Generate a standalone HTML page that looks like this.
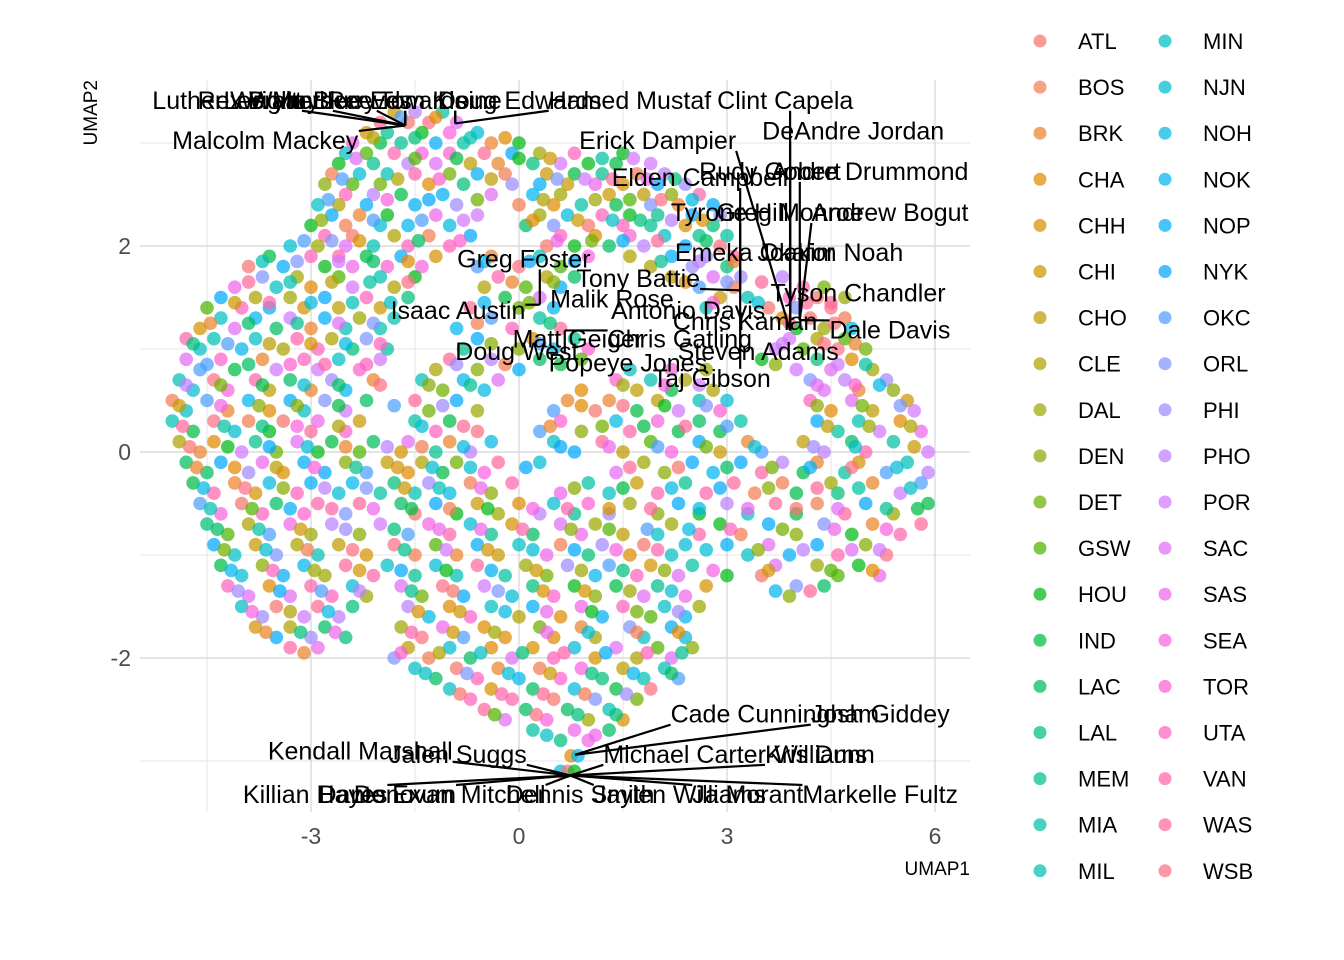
<!DOCTYPE html>
<html><head><meta charset="utf-8"><style>
html,body{margin:0;padding:0;background:#fff;}
svg{display:block;font-family:"Liberation Sans",Arial,sans-serif;}
</style></head><body>
<svg id="chart" width="1344" height="960">
<g id="grid"></g>
<g id="pts"></g>
<g id="lbl"></g>
<g id="axes"></g>
<g id="legend"></g>
</svg>
<script>
const teams = ["ATL","BOS","BRK","CHA","CHH","CHI","CHO","CLE","DAL","DEN","DET","GSW","HOU","IND","LAC","LAL","MEM","MIA","MIL","MIN","NJN","NOH","NOK","NOP","NYK","OKC","ORL","PHI","PHO","POR","SAC","SAS","SEA","TOR","UTA","VAN","WAS","WSB"];
const xTicks = [-3,0,3,6];
const yTicks = [-2,0,2];
const teamSeq = "7k3aF0pQ2mZc9LbX1eVr5tHn8gDs4uJw6yBzqiCvAoNfxdKlG";
const rows = [
[3.3,[-1.8,-1.5,-1.1]],
[3.2,[-2.0,-1.6,-1.3,-0.9]],
[3.1,[-2.2,-1.9,-1.4,-1.0,-0.6]],
[3.0,[-2.4,-2.0,-1.7,-1.2,-0.8,-0.4,0.0]],
[2.9,[-2.5,-2.2,-1.8,-1.4,-1.0,-0.5,-0.1,0.3,0.8,1.5]],
[2.8,[-2.6,-2.1,-1.6,-1.2,-0.7,-0.3,0.2,0.6,1.0,1.4,1.9]],
[2.7,[-2.7,-2.3,-1.9,-1.5,-1.0,-0.6,-0.2,0.4,0.8,1.2,1.7,2.1]],
[2.6,[-2.8,-2.4,-2.0,-1.3,-0.8,-0.1,0.3,0.7,1.1,1.5,2.0,2.4]],
[2.5,[-2.5,-2.1,-1.7,-1.1,-0.4,0.2,0.6,1.3,1.8,2.2,2.6]],
[2.4,[-2.9,-2.6,-2.2,-1.5,-0.9,0.0,0.5,0.9,1.4,1.9,2.3,2.8]],
[2.3,[-2.7,-2.3,-1.9,-1.2,-0.6,0.3,0.7,1.2,1.6,2.0,2.5,2.9]],
[2.2,[-3.0,-2.5,-2.0,-1.6,-1.0,0.1,0.5,1.0,1.5,1.9,2.4,2.8]],
[2.1,[-2.8,-2.4,-1.8,-1.3,-0.7,0.6,1.1,1.6,2.1,2.6,3.0]],
[2.0,[-3.3,-2.9,-2.5,-2.1,-1.6,-1.0,0.4,0.8,1.3,1.8,2.4,2.9]],
[1.9,[-3.6,-3.0,-2.6,-2.2,-1.7,-1.2,-0.4,0.3,1.0,1.6,2.2,2.7,3.1]],
[1.8,[-3.9,-3.4,-2.8,-2.4,-1.9,-1.4,-0.6,0.0,0.6,1.9,2.5,3.0]],
[1.7,[-3.7,-3.2,-2.6,-2.0,-1.5,-0.3,0.4,0.8,2.2,2.8,3.2,3.8]],
[1.6,[-4.1,-3.5,-3.0,-2.4,-1.8,-0.5,0.1,0.6,2.6,3.1,4.1,4.4]],
[1.5,[-4.3,-3.8,-3.3,-2.8,-2.2,-1.6,-0.2,0.3,2.9,3.3,3.9,4.3,4.7]],
[1.4,[-4.5,-4.0,-3.6,-3.1,-2.6,-2.0,-0.7,0.0,0.5,2.7,3.6,4.0,4.5]],
[1.3,[-4.3,-3.8,-3.3,-2.8,-2.3,-1.8,-0.4,0.3,3.8,4.2,4.7]],
[1.2,[-4.6,-4.1,-3.5,-3.0,-2.5,-2.0,-0.9,-0.1,0.6,4.0,4.4,4.8]],
[1.1,[-4.8,-4.4,-3.8,-3.2,-2.7,-2.2,-0.6,0.2,0.8,3.9,4.3,4.7]],
[1.0,[-4.6,-4.0,-3.4,-2.9,-2.4,-1.9,-0.8,0.0,0.5,1.0,3.7,4.1,4.6,5.0]],
[0.9,[-4.8,-4.3,-3.7,-3.1,-2.6,-2.0,-1.0,-0.4,0.3,0.9,3.5,4.3,4.8]],
[0.8,[-4.6,-4.1,-3.5,-2.9,-2.3,-1.2,-0.6,0.0,1.6,2.2,2.7,4.0,4.5,5.1]],
[0.7,[-4.9,-4.4,-3.8,-3.3,-2.7,-2.1,-1.4,-0.8,-0.3,1.4,1.9,2.4,4.2,4.7,5.3]],
[0.6,[-4.7,-4.2,-3.6,-3.0,-2.5,-1.1,-0.5,0.9,1.7,2.2,2.8,4.4,4.9,5.4]],
[0.5,[-5.0,-4.5,-3.9,-3.3,-2.8,-2.2,-1.5,-0.9,0.7,1.3,2.0,2.6,3.0,4.2,4.8,5.6]],
[0.4,[-4.8,-4.2,-3.6,-3.1,-2.5,-1.3,-0.6,0.5,1.1,1.7,2.3,2.9,4.5,5.1,5.7]],
[0.3,[-5.0,-4.4,-3.9,-3.4,-2.9,-2.3,-1.5,-1.0,0.6,1.4,2.0,2.6,3.2,4.3,4.9,5.5]],
[0.2,[-4.7,-4.1,-3.6,-3.0,-2.5,-1.2,-0.6,0.3,0.9,1.6,2.3,2.9,4.6,5.2,5.8]],
[0.1,[-4.9,-4.4,-3.8,-3.2,-2.7,-2.1,-1.6,-1.0,-0.4,0.5,1.2,1.9,2.6,3.3,4.1,4.8,5.4]],
[0.0,[-4.6,-4.0,-3.5,-2.9,-2.3,-1.7,-1.2,-0.7,0.8,1.5,2.2,2.9,3.5,4.4,5.0,5.9]],
[-0.1,[-4.8,-4.3,-3.7,-3.1,-2.5,-1.9,-1.4,-0.9,-0.3,0.3,1.8,2.5,3.2,3.8,4.3,4.9,5.6]],
[-0.2,[-4.5,-3.9,-3.4,-2.8,-2.2,-1.6,-1.1,-0.5,1.4,2.1,2.8,3.5,4.1,4.7,5.3,5.9]],
[-0.3,[-4.7,-4.1,-3.6,-3.0,-2.4,-1.8,-1.3,-0.7,-0.1,1.0,1.7,2.4,3.1,3.8,4.5,5.1,5.8]],
[-0.4,[-4.4,-3.8,-3.2,-2.6,-2.0,-1.5,-1.0,-0.4,0.6,1.3,2.0,2.7,3.4,4.0,4.6,5.5]],
[-0.5,[-4.6,-4.0,-3.5,-2.9,-2.3,-1.7,-1.2,-0.6,0.0,0.5,1.0,1.6,2.3,3.0,3.7,4.3,5.0,5.9]],
[-0.6,[-4.3,-3.7,-3.1,-2.5,-1.5,-0.9,-0.3,0.3,0.8,1.3,2.0,2.6,3.3,4.0,4.7,5.4]],
[-0.7,[-4.5,-3.9,-3.3,-2.7,-2.0,-1.3,-0.7,-0.1,0.6,1.1,2.2,2.9,3.6,4.4,5.1,5.8]],
[-0.8,[-4.2,-3.6,-3.0,-2.3,-1.6,-1.0,-0.4,0.2,0.9,1.5,2.0,2.6,3.2,4.0,4.8,5.5]],
[-0.9,[-4.4,-3.8,-3.2,-2.6,-1.8,-1.2,-0.6,0.0,0.6,1.2,1.8,2.4,3.0,3.6,4.3,5.0]],
[-1.0,[-4.1,-3.5,-2.9,-2.2,-1.5,-0.9,-0.3,0.4,1.0,1.6,2.2,3.3,3.9,4.6,5.3]],
[-1.1,[-4.3,-3.7,-3.1,-2.5,-1.9,-1.2,-0.6,0.1,0.7,1.3,1.9,2.5,3.7,4.3,4.9]],
[-1.2,[-4.0,-3.4,-2.8,-2.1,-1.5,-0.9,-0.2,0.4,1.1,1.7,2.3,3.0,3.5,4.6,5.2]],
[-1.3,[-4.2,-3.6,-3.0,-2.4,-1.7,-1.1,-0.5,0.2,0.8,1.4,2.0,2.7,4.0,4.4]],
[-1.4,[-3.9,-3.3,-2.7,-2.2,-1.4,-0.8,-0.1,0.5,1.1,1.8,2.4,3.9]],
[-1.5,[-4.0,-3.5,-2.9,-2.4,-1.6,-1.0,-0.4,0.2,0.9,1.5,2.1,2.6]],
[-1.6,[-3.7,-3.1,-2.6,-1.3,-0.7,0.0,0.6,1.2,1.9,2.4]],
[-1.7,[-3.8,-3.3,-2.8,-1.7,-1.1,-0.5,0.3,0.9,1.6,2.2]],
[-1.8,[-3.5,-3.0,-2.5,-1.4,-0.8,-0.2,0.5,1.1,1.8,2.4]],
[-1.9,[-3.3,-2.9,-1.6,-1.0,-0.4,0.2,0.8,1.4,2.0,2.5]],
[-2.0,[-1.8,-1.3,-0.7,-0.1,0.5,1.1,1.7,2.2]],
[-2.1,[-1.5,-0.9,-0.3,0.3,0.9,1.5,2.1]],
[-2.2,[-1.2,-0.6,0.0,0.6,1.2,1.8,2.3]],
[-2.3,[-1.0,-0.4,0.2,0.8,1.4,1.9]],
[-2.4,[-0.7,-0.1,0.5,1.1,1.7]],
[-2.5,[-0.5,0.1,0.7,1.3]],
[-2.6,[-0.2,0.4,1.0,1.5]],
[-2.7,[0.2,0.8,1.3]],
[-2.8,[0.6,1.0]],
[-2.95,[0.75,0.85]],
[-3.1,[0.6,0.7,0.8]]
];
const rows2 = [
[3.25,[-1.7,-1.2]],[3.05,[-2.1,-1.5,-0.7,-0.2]],[2.85,[-2.35,-1.5,-0.9,0.0,0.45,1.2,1.65]],
[2.65,[-2.55,-1.75,-1.15,-0.4,0.55,0.95,1.35,1.85,2.25]],[2.45,[-2.75,-1.9,-1.3,-0.6,0.35,1.1,1.6,2.05,2.5]],
[2.25,[-2.85,-2.1,-1.4,-0.8,0.2,0.85,1.35,1.75,2.2,2.65]],[2.05,[-3.1,-2.7,-2.3,-1.45,-0.85,0.55,1.05,1.5,2.0,2.7]],
[1.85,[-3.7,-3.2,-2.6,-2.1,-1.6,-0.5,0.15,0.8,2.05,2.6,3.1]],[1.65,[-3.9,-3.3,-2.7,-2.15,-1.6,-0.1,0.5,2.4,3.0,3.5]],
[1.45,[-4.1,-3.6,-3.0,-2.4,-1.85,-0.5,0.15,2.8,3.45,4.15,4.5]],[1.25,[-4.45,-3.9,-3.2,-2.6,-2.1,-0.6,0.45,3.9,4.55]],
[1.05,[-4.7,-4.2,-3.6,-3.0,-2.5,-2.0,-0.4,0.3,3.8,4.4,4.85]],[0.85,[-4.5,-3.9,-3.3,-2.8,-2.2,-0.9,-0.2,0.6,3.7,4.6,5.0]],
[0.65,[-4.8,-4.3,-3.7,-3.1,-2.6,-2.0,-1.3,-0.7,1.5,2.1,2.6,4.3,4.85,5.2]],[0.45,[-4.9,-4.3,-3.75,-3.2,-2.6,-1.8,-1.1,0.9,1.5,2.1,2.7,4.3,4.95,5.5]],
[0.25,[-4.85,-4.25,-3.7,-3.2,-2.6,-1.4,-0.8,0.45,1.2,1.8,2.4,3.0,4.45,5.05,5.65]],[0.05,[-4.75,-4.2,-3.6,-3.05,-2.5,-1.9,-1.4,-0.8,0.6,1.3,2.0,2.7,3.4,4.25,4.85,5.7]],
[-0.15,[-4.65,-4.1,-3.5,-2.95,-2.35,-1.75,-1.25,-0.7,0.1,1.6,2.3,3.0,3.65,4.2,4.8,5.45]],[-0.35,[-4.55,-3.95,-3.4,-2.8,-2.2,-1.65,-1.15,-0.55,0.8,1.5,2.2,2.9,3.6,4.3,4.9,5.65]],
[-0.55,[-4.45,-3.85,-3.3,-2.7,-2.1,-1.55,-1.0,-0.45,0.2,0.7,1.3,1.9,2.6,3.3,4.0,4.6,5.3,5.75]],[-0.75,[-4.35,-3.75,-3.15,-2.5,-1.8,-1.15,-0.55,0.05,0.75,1.3,1.85,2.45,3.05,3.8,4.55,5.3]],
[-0.95,[-4.25,-3.65,-3.05,-2.4,-1.65,-1.05,-0.45,0.2,0.8,1.4,2.0,2.7,3.45,4.1,4.8,5.2]],[-1.15,[-4.15,-3.55,-2.95,-2.3,-1.7,-1.05,-0.4,0.25,0.9,1.5,2.1,2.8,3.6,4.5,5.1]],
[-1.35,[-4.05,-3.45,-2.85,-2.3,-1.55,-0.95,-0.3,0.35,0.95,1.6,2.2,3.7,4.2]],[-1.55,[-3.85,-3.3,-2.75,-1.45,-0.85,-0.2,0.4,1.05,1.7,2.3]],
[-1.75,[-3.65,-3.15,-2.65,-1.55,-0.95,-0.35,0.4,1.0,1.7,2.3]],[-1.95,[-3.1,-1.7,-1.15,-0.55,0.05,0.65,1.25,1.85,2.35]],
[-2.15,[-1.35,-0.75,-0.15,0.45,1.05,1.65,2.2]],[-2.35,[-0.85,-0.25,0.35,0.95,1.55]],[-2.55,[-0.35,0.25,0.85,1.4]],[-2.75,[0.4,1.1]]
];
const labels = [
["Luther Wright",-4.21,3.41,-1.64,3.17],["Rex Walters",-3.66,3.41,-1.64,3.17],["Lee Mayberry",-3.16,3.41,-1.64,3.17],
["Bryant Reeves",-2.73,3.41,-1.64,3.17],["Blue Edwards",-1.86,3.41,-1.64,3.17],["Tom Kleine",-1.14,3.41,-0.92,3.19],
["Doug Edwards",0.01,3.41,-0.92,3.19],["Hamed Mustaf",1.60,3.41,-0.92,3.19],["Clint Capela",3.84,3.41,3.91,1.18],
["Malcolm Mackey",-3.66,3.02,-1.64,3.17],["Erick Dampier",2.00,3.02,3.91,1.18],["DeAndre Jordan",4.82,3.11,3.91,1.18],
["Elden Campbell",2.61,2.66,3.19,1.57],["Rudy Gobert",3.62,2.72,3.91,1.18],["Andre Drummond",5.06,2.72,4.05,1.28],
["Tyrone Hill",3.04,2.32,3.19,1.57],["Greg Monroe",3.91,2.32,3.91,1.18],["Andrew Bogut",5.35,2.32,4.05,1.28],
["Greg Foster",0.07,1.87,0.30,1.43],["Emeka Okafor",3.40,1.93,3.91,1.18],["Joakim Noah",4.49,1.93,4.05,1.28],
["Tony Battie",1.72,1.68,3.19,1.57],["Tyson Chandler",4.89,1.54,4.05,1.28],["Isaac Austin",-0.88,1.37,0.30,1.43],
["Malik Rose",1.34,1.48,0.30,1.43],["Antonio Davis",2.44,1.37,3.19,1.57],["Chris Kaman",3.26,1.26,3.91,1.18],
["Dale Davis",5.35,1.18,4.05,1.28],["Matt Geiger",0.85,1.09,0.66,1.18],["Chris Gatling",2.32,1.09,0.66,1.18],
["Doug West",-0.03,0.97,0.66,1.18],["Steven Adams",3.45,0.97,3.91,1.18],["Popeye Jones",1.57,0.86,0.66,1.18],
["Taj Gibson",2.78,0.71,3.19,1.57],
["Cade Cunningham",3.69,-2.55,0.81,-2.94],["Josh Giddey",5.21,-2.55,0.81,-2.94],["Kendall Marshall",-2.29,-2.91,0.74,-3.14],
["Jalen Suggs",-0.88,-2.94,0.74,-3.14],["Michael Carter-Williams",3.12,-2.94,0.74,-3.14],["Kris Dunn",4.34,-2.94,0.74,-3.14],
["Killian Hayes",-2.94,-3.33,0.74,-3.14],["Dante Exum",-1.9,-3.33,0.74,-3.14],["Donovan Mitchell",-1.00,-3.33,0.74,-3.14],["Dennis Smith",0.88,-3.33,0.74,-3.14],
["Jaylen Williams",2.32,-3.33,0.74,-3.14],["Ja Morant",3.3,-3.33,0.74,-3.14],["Markelle Fultz",5.21,-3.33,0.74,-3.14]
];
const NS="http://www.w3.org/2000/svg";
const PX0=140,PX1=970,PY0=80,PY1=812;
const xs=v=>519+v*69.333;
const ys=v=>452-v*103;
function el(tag,attrs,parent){const e=document.createElementNS(NS,tag);for(const k in attrs)e.setAttribute(k,attrs[k]);parent.appendChild(e);return e;}
function hcl(h){const L=65,C=100;const hr=h*Math.PI/180;const u=C*Math.cos(hr),v=C*Math.sin(hr);
const Y=Math.pow((L+16)/116,3);const un=0.19784,vn=0.46834;const up=u/(13*L)+un,vp=v/(13*L)+vn;
const X=Y*9*up/(4*vp),Z=Y*(12-3*up-20*vp)/(4*vp);
let r=3.2406*X-1.5372*Y-0.4986*Z,g=-0.9689*X+1.8758*Y+0.0415*Z,b=0.0557*X-0.2040*Y+1.0570*Z;
const gam=c=>{c=c<=0.0031308?12.92*c:1.055*Math.pow(c,1/2.4)-0.055;return Math.round(Math.max(0,Math.min(1,c))*255);};
return `rgb(${gam(r)},${gam(g)},${gam(b)})`;}
const N=teams.length;
const colors=teams.map((t,i)=>hcl(15+360*i/N));
const grid=document.getElementById('grid');
[-4.5,-1.5,1.5,4.5].forEach(v=>{const l=el('line',{x1:xs(v),x2:xs(v),y1:PY0,y2:PY1,stroke:'#e6e6e6','stroke-width':1},grid);});
[3,1,-1,-3].forEach(v=>{const l=el('line',{x1:PX0,x2:PX1,y1:ys(v),y2:ys(v),stroke:'#e6e6e6','stroke-width':1},grid);});
xTicks.forEach(v=>{const l=el('line',{x1:xs(v),x2:xs(v),y1:PY0,y2:PY1,stroke:'#d4d4d4','stroke-width':1.2},grid);});
yTicks.forEach(v=>{const l=el('line',{x1:PX0,x2:PX1,y1:ys(v),y2:ys(v),stroke:'#d4d4d4','stroke-width':1.2},grid);});
const pg=document.getElementById('pts');let idx=0;
[rows,rows2].forEach(set=>set.forEach(r=>{r[1].forEach(x=>{const ch=teamSeq.charCodeAt(idx%teamSeq.length);const t=(ch*7+idx)%N;idx++;
const c=el('circle',{cx:xs(x),cy:ys(r[0]),r:6.8,fill:colors[t],'fill-opacity':0.72},pg);

});}));
const lg=document.getElementById('lbl');const lineG=el('g',{},lg);const textG=el('g',{},lg);
labels.forEach(L=>{const tx=xs(L[1]),ty=ys(L[2]);
const t=el('text',{x:tx,y:ty+8,'text-anchor':'middle','font-size':25,fill:'#000'},textG);t.textContent=L[0];


const bb=t.getBBox();const px=xs(L[3]),py=ys(L[4]);
const cx=Math.max(bb.x,Math.min(bb.x+bb.width,px)),cy=Math.max(bb.y+4,Math.min(bb.y+bb.height-4,py));
if(Math.hypot(cx-px,cy-py)>12){const ln=el('line',{x1:cx,y1:cy,x2:px,y2:py,stroke:'#000','stroke-width':2.2},lineG);

}});
const ax=document.getElementById('axes');
xTicks.forEach(v=>{const t=el('text',{x:xs(v),y:844,'text-anchor':'middle','font-size':23,fill:'#4d4d4d'},ax);t.textContent=v;});
yTicks.forEach(v=>{const t=el('text',{x:131,y:ys(v)+8,'text-anchor':'end','font-size':23,fill:'#4d4d4d'},ax);t.textContent=v;});
const xt=el('text',{x:970,y:875,'text-anchor':'end','font-size':19,fill:'#000'},ax);xt.textContent='UMAP1';
const yt=el('text',{x:0,y:0,'text-anchor':'end','font-size':19,fill:'#000',transform:'translate(97,80) rotate(-90)'},ax);yt.textContent='UMAP2';
const leg=document.getElementById('legend');
const colLeft=["ATL","BOS","BRK","CHA","CHH","CHI","CHO","CLE","DAL","DEN","DET","GSW","HOU","IND","LAC","LAL","MEM","MIA","MIL"];
const colRight=["MIN","NJN","NOH","NOK","NOP","NYK","OKC","ORL","PHI","PHO","POR","SAC","SAS","SEA","TOR","UTA","VAN","WAS","WSB"];
[colLeft,colRight].forEach((arr,c)=>{arr.forEach((t,r)=>{const ti=c*19+r;const y=41+r*46.1;const x=1040+c*125;
const g=el('g',{},leg);
el('circle',{cx:x,cy:y,r:6.5,fill:colors[ti],'fill-opacity':0.72},g);
const tx=el('text',{x:x+38,y:y+8,'font-size':22,fill:'#000'},g);tx.textContent=t;});});
</script>
</body></html>
